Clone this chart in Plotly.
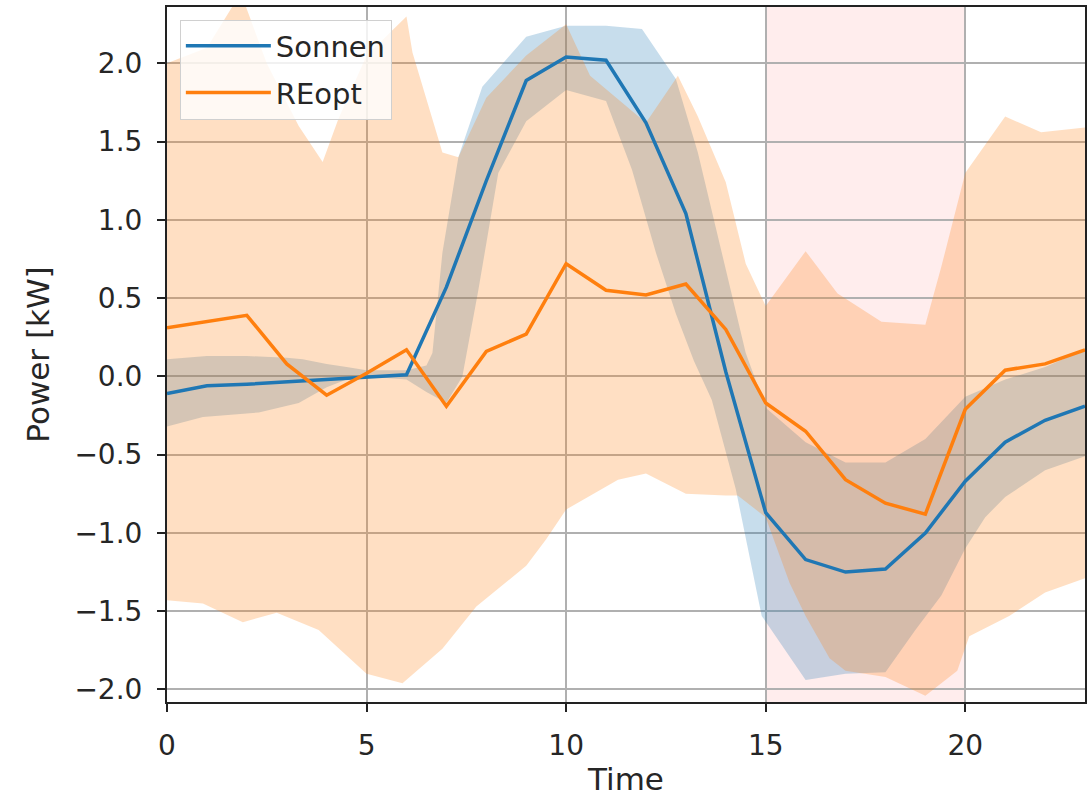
import plotly.graph_objects as go

hours = list(range(24))
sonnen = [-0.11, -0.06, -0.05, -0.035, -0.015, 0.0, 0.01, 0.57, 1.25, 1.89, 2.04, 2.02,
          1.62, 1.04, 0.03, -0.87, -1.17, -1.25, -1.23, -1.0, -0.67, -0.42, -0.28, -0.19]
reopt = [0.31, 0.35, 0.39, 0.08, -0.12, 0.02, 0.17, -0.19, 0.16, 0.27, 0.72, 0.55,
         0.52, 0.59, 0.30, -0.17, -0.35, -0.66, -0.81, -0.88, -0.21, 0.04, 0.08, 0.17]

# Sonnen band edges
s_up_x = [0, 1, 2, 3, 3.4, 4, 4.5, 5, 6, 6.5, 6.65, 6.9, 7.3, 7.9, 9, 10, 11, 11.9, 12.75,
          13.3, 13.9, 14.5, 15, 16, 17, 18, 19, 20, 21, 22, 23]
s_up_y = [0.11, 0.13, 0.13, 0.12, 0.11, 0.08, 0.06, 0.04, 0.04, 0.07, 0.15, 0.79, 1.40, 1.85,
          2.17, 2.24, 2.24, 2.22, 1.90, 1.43, 0.79, 0.15, -0.20, -0.42, -0.55, -0.55, -0.40,
          -0.13, -0.02, 0.06, 0.17]
s_lo_x = [0, 0.9, 2.3, 3.3, 4, 4.5, 5, 6, 6.5, 7, 7.4, 7.8, 8.3, 9, 10, 11, 11.65, 12.25,
          12.75, 13.2, 13.65, 14.25, 14.9, 15.3, 16, 17, 18, 18.75, 19.4, 20, 20.5, 21, 22, 23]
s_lo_y = [-0.32, -0.26, -0.23, -0.17, -0.07, -0.02, 0.0, -0.02, -0.10, -0.17, 0.0, 0.55, 1.30,
          1.63, 1.83, 1.76, 1.32, 0.79, 0.40, 0.10, -0.15, -0.72, -1.53, -1.68, -1.94, -1.90,
          -1.89, -1.62, -1.40, -1.10, -0.90, -0.77, -0.60, -0.51]

# REopt band edges
r_up_x = [0, 1, 1.85, 2.5, 3.3, 3.9, 4.3, 5, 6, 6.15, 6.9, 7.3, 8, 9, 10, 10.6, 12, 12.8,
          13.3, 14, 14.5, 15, 16, 16.8, 17.9, 19, 19.4, 20, 21, 21.9, 23]
r_up_y = [2.0, 2.1, 2.45, 2.0, 1.60, 1.37, 1.65, 2.05, 2.30, 2.07, 1.43, 1.40, 1.78, 2.05,
          2.25, 1.92, 1.62, 1.92, 1.66, 1.24, 0.72, 0.45, 0.80, 0.53, 0.35, 0.33, 0.70, 1.30,
          1.66, 1.56, 1.59]
r_lo_x = [0, 0.9, 1.9, 2.75, 3.8, 5, 5.9, 6.9, 7.75, 9, 9.5, 10, 11.3, 12, 13, 14, 14.3, 15,
          15.6, 16, 16.6, 17, 18, 19, 19.8, 20.1, 21.1, 22, 23]
r_lo_y = [-1.43, -1.45, -1.57, -1.51, -1.62, -1.90, -1.96, -1.74, -1.47, -1.21, -1.04, -0.85,
          -0.66, -0.62, -0.75, -0.76, -0.76, -0.90, -1.32, -1.53, -1.80, -1.88, -1.92, -2.04,
          -1.88, -1.66, -1.53, -1.38, -1.29]

highlight = (15, 20)

BLUE = "#1f77b4"
ORANGE = "#ff7f0e"
FONT = "DejaVu Sans"
TXT = "#262626"

fig = go.Figure()

fig.add_trace(go.Scatter(
    x=s_up_x + s_lo_x[::-1], y=s_up_y + s_lo_y[::-1], fill="toself",
    fillcolor="rgba(31,119,180,0.25)", line=dict(width=0), mode="lines",
    showlegend=False, hoverinfo="skip"))
fig.add_trace(go.Scatter(
    x=r_up_x + r_lo_x[::-1], y=r_up_y + r_lo_y[::-1], fill="toself",
    fillcolor="rgba(255,127,14,0.25)", line=dict(width=0), mode="lines",
    showlegend=False, hoverinfo="skip"))

fig.add_trace(go.Scatter(x=hours, y=sonnen, mode="lines", name="Sonnen", legendgroup="a",
                         line=dict(color=BLUE, width=3.5)))
fig.add_trace(go.Scatter(x=hours, y=reopt, mode="lines", name="REopt", legendgroup="b",
                         line=dict(color=ORANGE, width=3.5)))

fig.add_vrect(x0=highlight[0], x1=highlight[1], fillcolor="rgba(255,0,0,0.07)",
              line_width=0, layer="below")

axis_common = dict(showline=True, linecolor="#222", linewidth=2, mirror=True,
                   ticks="outside", ticklen=8, tickwidth=2, tickcolor="#222",
                   showgrid=True, gridcolor="#b0b0b0", gridwidth=1.6, zeroline=False,
                   ticklabelstandoff=9,
                   tickfont=dict(family=FONT, size=28, color=TXT))

fig.update_xaxes(range=[0, 23], tickvals=[0, 5, 10, 15, 20],
                 title=dict(text="Time", font=dict(family=FONT, size=31, color=TXT),
                            standoff=8),
                 **axis_common)
fig.update_yaxes(range=[-2.08, 2.36], tickvals=[-2.0, -1.5, -1.0, -0.5, 0.0, 0.5, 1.0, 1.5, 2.0],
                 tickformat=".1f",
                 title=dict(text="Power [kW]", font=dict(family=FONT, size=31, color=TXT),
                            standoff=16),
                 **axis_common)

fig.update_layout(
    width=1089, height=798,
    margin=dict(l=167, r=2, t=7, b=96),
    plot_bgcolor="white", paper_bgcolor="white",
    font=dict(family=FONT, color=TXT),
    legend=dict(x=0.014, y=0.982, xanchor="left", yanchor="top",
                bgcolor="rgba(255,255,255,0.82)", bordercolor="#d0d0d0", borderwidth=1,
                font=dict(family=FONT, size=29, color=TXT),
                itemwidth=85, tracegroupgap=6),
    showlegend=True,
)

fig.write_html("out.html")
